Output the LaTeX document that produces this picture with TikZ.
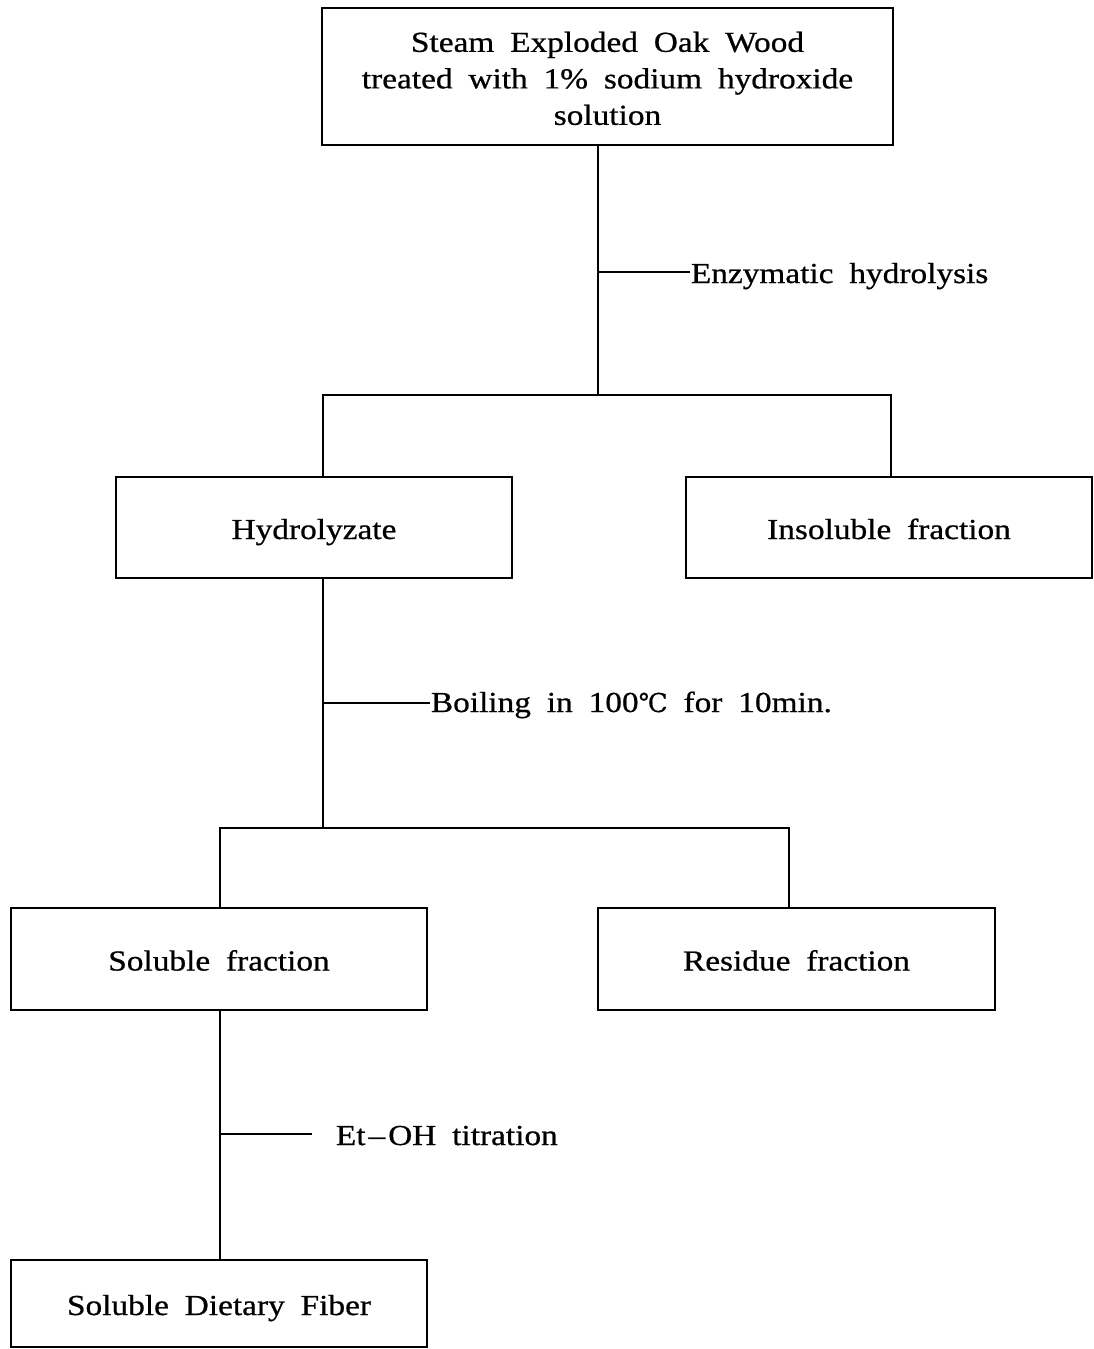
\documentclass[tikz,border=0pt]{standalone}
\usepackage{fontspec}
\setmainfont[FakeStretch=1.15,WordSpace=1.9,FakeBold=0.7]{Liberation Serif}
\newfontfamily\symfont[FakeBold=0.5]{DejaVu Serif}
\newcommand{\flowfont}{\fontsize{29}{36.5}\selectfont}
\newcommand{\etdash}{\kern3pt–\kern3pt}
\begin{document}
\begin{tikzpicture}[x=1pt,y=-1pt,line width=1.8pt,
  box/.style={draw,rectangle,inner sep=0pt,align=center,font=\flowfont},
  onebox/.style={box,text height=25pt,text depth=2pt},
  lbl/.style={anchor=base west,inner sep=0pt,font=\flowfont}]
\useasboundingbox (0,0) rectangle (1094,1349);

% process boxes
\node[box,minimum width=571pt,minimum height=137pt] (src) at (607.5,76.5)
  {\rule{0pt}{24pt}Steam Exploded Oak Wood\\treated with 1\% sodium hydroxide\\solution};
\node[onebox,minimum width=396pt,minimum height=101pt] (hyd) at (314,527.5) {Hydrolyzate};
\node[onebox,minimum width=406pt,minimum height=101pt] (ins) at (889,527.5) {Insoluble fraction};
\node[onebox,minimum width=416pt,minimum height=102pt] (sol) at (219,959) {Soluble fraction};
\node[onebox,minimum width=397pt,minimum height=102pt] (res) at (796.5,959) {Residue fraction};
\node[onebox,minimum width=416pt,minimum height=87pt] (sdf) at (219,1303.5) {Soluble Dietary Fiber};

% step labels
\node[lbl] (enz) at (690,283) {Enzymatic hydrolysis};
\node[lbl] (boil) at (430,712) {Boiling in 100{\symfont\fontsize{26}{26}\selectfont ℃} for 10min.};
\node[lbl] (etoh) at (335,1145) {Et\etdash OH titration};

% junction points
\coordinate (t1) at (598,272);
\coordinate (j1) at (598,395);
\coordinate (b1l) at (323,395);
\coordinate (b1r) at (891,395);
\coordinate (t2) at (323,703);
\coordinate (j2) at (323,828);
\coordinate (b2l) at (220,828);
\coordinate (b2r) at (789,828);
\coordinate (t3) at (220,1134);
\coordinate (t3e) at (312,1134);

% first stage
\draw (src.south -| j1) -- (j1);
\draw (t1) -- (t1 -| enz.west);
\draw (hyd.north -| b1l) -- (b1l) -- (b1r) -- (ins.north -| b1r);

% second stage
\draw (hyd.south -| j2) -- (j2);
\draw (t2) -- (t2 -| boil.west);
\draw (sol.north -| b2l) -- (b2l) -- (b2r) -- (res.north -| b2r);

% third stage
\draw (sol.south -| t3) -- (sdf.north -| t3);
\draw (t3) -- (t3e);
\end{tikzpicture}
\end{document}
